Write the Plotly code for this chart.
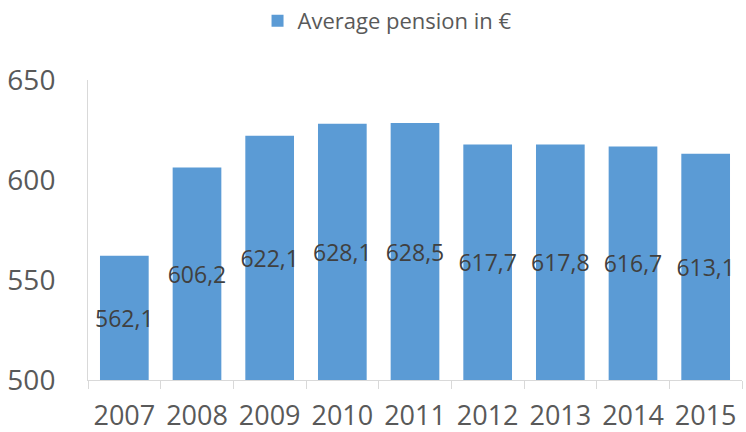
import plotly.graph_objects as go

years = ["2007", "2008", "2009", "2010", "2011", "2012", "2013", "2014", "2015"]
pension = [562.1, 606.2, 622.1, 628.1, 628.5, 617.7, 617.8, 616.7, 613.1]
y_ticks = [500, 550, 600, 650]
y_min, y_max = 500, 650

fig = go.Figure()
fig.add_trace(go.Bar(
    x=years, y=[v - y_min for v in pension], base=y_min, customdata=pension,
    name="Average pension in €",
    marker=dict(color="#5b9bd5", line=dict(width=0)),
    texttemplate="%{customdata:.1f}", textposition="inside", insidetextanchor="middle",
    constraintext="none",
    textfont=dict(family="Open Sans", size=23, color="#404040"),
    textangle=0, hoverinfo="skip",
))
fig.update_layout(
    width=746, height=432,
    margin=dict(l=88, r=4, t=80, b=52, autoexpand=False),
    paper_bgcolor="white", plot_bgcolor="white",
    separators=",.",
    bargap=0.33,
    showlegend=True,
    legend=dict(orientation="h", x=0.458, xanchor="center", y=1.0, yref="container",
                yanchor="top",
                font=dict(family="Open Sans", size=22, color="#595959")),
    font=dict(family="Open Sans"),
)
fig.update_yaxes(range=[y_min, y_max], tickvals=y_ticks, showgrid=False, zeroline=False,
                 showline=True, linecolor="#d9d9d9", linewidth=1, ticks="",
                 ticklabelstandoff=26, automargin=False,
                 tickfont=dict(family="Open Sans", size=28, color="#595959"))
fig.update_xaxes(showgrid=False, showline=True, linecolor="#d9d9d9", linewidth=1,
                 ticks="outside", tickson="boundaries", ticklen=8, tickcolor="#d9d9d9",
                 ticklabelstandoff=12, tickangle=0, automargin=False,
                 tickfont=dict(family="Open Sans", size=27, color="#595959"))
fig.write_html("out.html", config={"displayModeBar": False},
               post_script="document.body.style.margin='0';")
